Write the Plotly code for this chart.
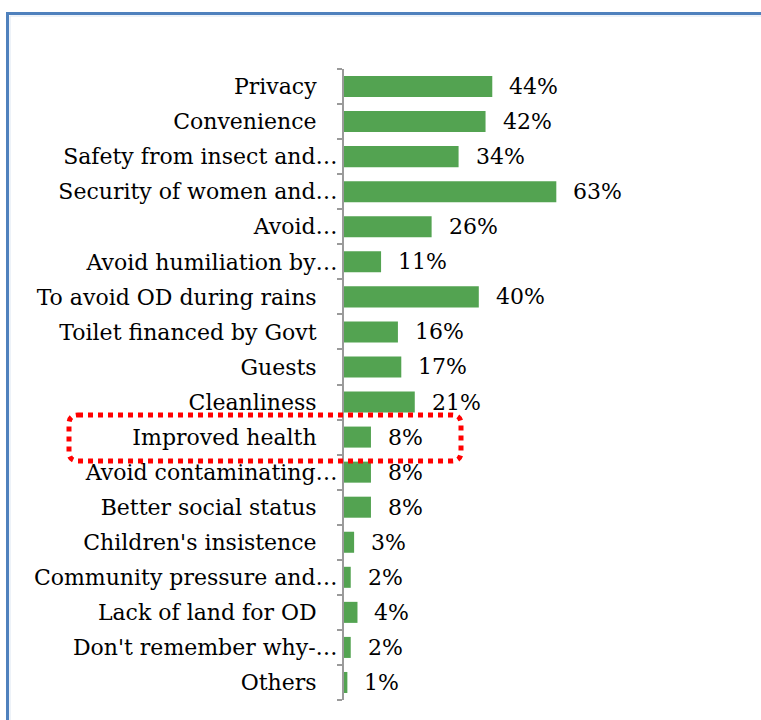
import plotly.graph_objects as go

categories = [
    "Privacy", "Convenience", "Safety from insect and…", "Security of women and…",
    "Avoid…", "Avoid humiliation by…", "To avoid OD during rains", "Toilet financed by Govt",
    "Guests", "Cleanliness", "Improved health", "Avoid contaminating…",
    "Better social status", "Children's insistence", "Community pressure and…",
    "Lack of land for OD", "Don't remember why-…", "Others",
]
values = [44, 42, 34, 63, 26, 11, 40, 16, 17, 21, 8, 8, 8, 3, 2, 4, 2, 1]
value_labels = [f"{v}%" for v in values]

FONT = "DejaVu Serif"
W, H = 761, 720
ML, MR, MT, MB = 344, 80, 69, 20
PW, PH = W - ML - MR, H - MT - MB
XMAX = PW / 3.37

def px2paper(px, py):
    return (px - ML) / PW, 1 - (py - MT) / PH

# truncated labels sit close to the axis; complete labels keep a gap
tick_text = [c if c.endswith("…") else c + "\u00a0\u00a0\u00a0" for c in categories]

fig = go.Figure()
fig.add_trace(go.Bar(
    x=values, y=categories, orientation="h",
    marker=dict(color="#53A351", line=dict(width=0)),
    hoverinfo="skip",
))

annotations = []
for c, v, t in zip(categories, values, value_labels):
    annotations.append(dict(
        x=v, y=c, xref="x", yref="y", text=t, showarrow=False,
        xanchor="left", yanchor="middle", xshift=15,
        font=dict(family=FONT, size=22, color="#000"),
    ))

# red dotted rounded rectangle around highlighted category
x0, y0 = px2paper(69, 415)
x1, y1 = px2paper(461, 461)
rx = 9 / PW
ry = 9 / PH
path = (f"M {x0+rx},{y0} L {x1-rx},{y0} Q {x1},{y0} {x1},{y0-ry} "
        f"L {x1},{y1+ry} Q {x1},{y1} {x1-rx},{y1} L {x0+rx},{y1} "
        f"Q {x0},{y1} {x0},{y1+ry} L {x0},{y0-ry} Q {x0},{y0} {x0+rx},{y0} Z")
shapes = [
    dict(type="path", xref="paper", yref="paper", path=path,
         line=dict(color="#FF0000", width=5, dash="dot")),
]
# blue frame (left and top edges)
bx, by = px2paper(7.5, 13.5)
bx2, by2 = px2paper(800, 760)
shapes.append(dict(type="path", xref="paper", yref="paper",
                   path=f"M {bx},{by2} L {bx},{by} L {bx2},{by}",
                   line=dict(color="#4F81BD", width=3)))
lx, ly = px2paper(10, 16)
shapes.append(dict(type="path", xref="paper", yref="paper",
                   path=f"M {lx},{by2} L {lx},{ly} L {bx2},{ly}",
                   line=dict(color="#DCE6F2", width=1)))

fig.update_layout(
    width=W, height=H,
    margin=dict(l=ML, r=MR, t=MT, b=MB, pad=0),
    paper_bgcolor="white", plot_bgcolor="white",
    showlegend=False, bargap=0.4,
    xaxis=dict(visible=False, range=[0, XMAX], fixedrange=True),
    yaxis=dict(
        autorange="reversed", type="category",
        tickmode="array", tickvals=categories, ticktext=tick_text,
        showline=True, linecolor="#9A9A9A", linewidth=2,
        ticks="outside", ticklen=5, tickcolor="#9A9A9A", tickwidth=2,
        tickson="boundaries", showgrid=False, zeroline=False,
        ticklabelstandoff=0,
        tickfont=dict(family=FONT, size=22, color="#000"),
    ),
    annotations=annotations,
    shapes=shapes,
)

fig.write_html("out.html")
